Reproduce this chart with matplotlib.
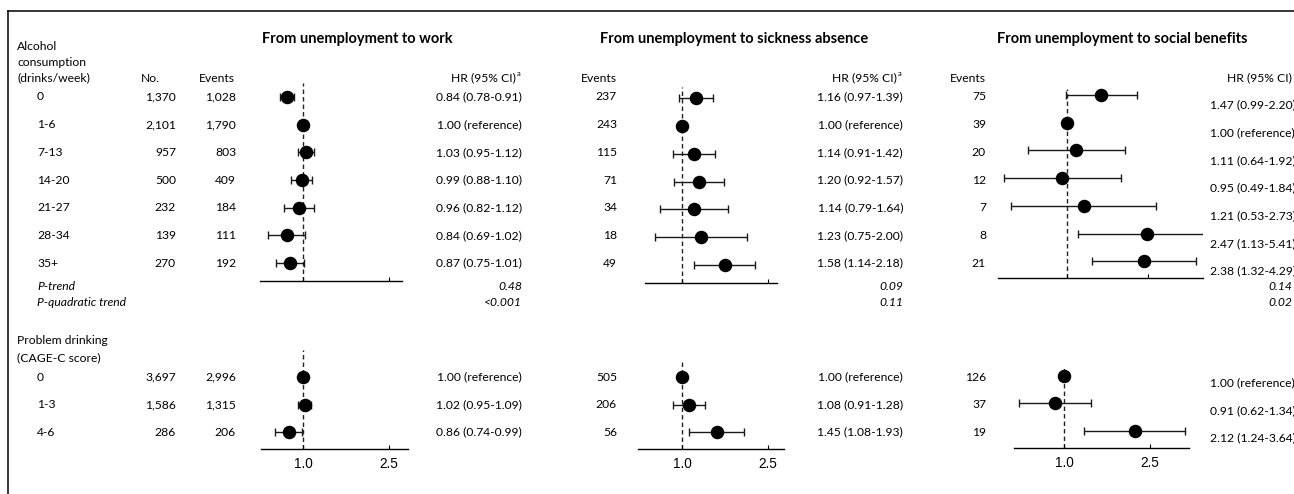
import numpy as np
import matplotlib
matplotlib.use("Agg")
import matplotlib.pyplot as plt
from matplotlib.lines import Line2D
from matplotlib.ticker import FixedLocator, NullLocator, FixedFormatter

# ---------------- data ----------------
alc_categories = ['0', '1-6', '7-13', '14-20', '21-27', '28-34', '35+']
alc_n = [1370, 2101, 957, 500, 232, 139, 270]

work_alc_events = [1028, 1790, 803, 409, 184, 111, 192]
work_alc_hr = [0.84, 1.00, 1.03, 0.99, 0.96, 0.84, 0.87]
work_alc_lo = [0.78, np.nan, 0.95, 0.88, 0.82, 0.69, 0.75]
work_alc_hi = [0.91, np.nan, 1.12, 1.10, 1.12, 1.02, 1.01]

sick_alc_events = [237, 243, 115, 71, 34, 18, 49]
sick_alc_hr = [1.16, 1.00, 1.14, 1.20, 1.14, 1.23, 1.58]
sick_alc_lo = [0.97, np.nan, 0.91, 0.92, 0.79, 0.75, 1.14]
sick_alc_hi = [1.39, np.nan, 1.42, 1.57, 1.64, 2.00, 2.18]

soc_alc_events = [75, 39, 20, 12, 7, 8, 21]
soc_alc_hr = [1.47, 1.00, 1.11, 0.95, 1.21, 2.47, 2.38]
soc_alc_lo = [0.99, np.nan, 0.64, 0.49, 0.53, 1.13, 1.32]
soc_alc_hi = [2.20, np.nan, 1.92, 1.84, 2.73, 5.41, 4.29]

p_trend = ['0.48', '0.09', '0.14']
p_quad = ['<0.001', '0.11', '0.02']

cage_categories = ['0', '1-3', '4-6']
cage_n = [3697, 1586, 286]

work_cage_events = [2996, 1315, 206]
work_cage_hr = [1.00, 1.02, 0.86]
work_cage_lo = [np.nan, 0.95, 0.74]
work_cage_hi = [np.nan, 1.09, 0.99]

sick_cage_events = [505, 206, 56]
sick_cage_hr = [1.00, 1.08, 1.45]
sick_cage_lo = [np.nan, 0.91, 1.08]
sick_cage_hi = [np.nan, 1.28, 1.93]

soc_cage_events = [126, 37, 19]
soc_cage_hr = [1.00, 0.91, 2.12]
soc_cage_lo = [np.nan, 0.62, 1.24]
soc_cage_hi = [np.nan, 1.34, 3.64]

tick_values = [1.0, 2.5]
tick_labels = ['1.0', '2.5']

titles = ['From unemployment to work',
          'From unemployment to sickness absence',
          'From unemployment to social benefits']

# ---------------- layout ----------------
W, H = 1294, 494
DPI = 100
fig = plt.figure(figsize=(W / DPI, H / DPI), dpi=DPI)
FONT = ['Lato', 'DejaVu Sans']
FS = 8.7
plt.rcParams['font.family'] = FONT


def fx(px):
    return px / W


def fy(py):
    return 1 - py / H


def txt(x, y, s, ha='left', size=FS, **kw):
    fig.text(fx(x), fy(y), s, ha=ha, va='center', fontsize=size,
             family=FONT, color='black', **kw)


# border
fig.add_artist(Line2D([fx(8), fx(W + 5)], [fy(11), fy(11)], color='black', lw=1.1))
fig.add_artist(Line2D([fx(8), fx(8)], [fy(11), fy(H + 5)], color='black', lw=1.1))

TOP0, TOPSTEP = 97, 27.7
BOT0, BOTSTEP = 377, 27.5
top_rows = [TOP0 + i * TOPSTEP for i in range(len(alc_categories))]
bot_rows = [BOT0 + i * BOTSTEP for i in range(len(cage_categories))]

# left table
txt(17, 47, 'Alcohol')
txt(17, 63, 'consumption')
txt(17, 78, '(drinks/week)')
txt(160, 78, 'No.', ha='right')
txt(235, 78, 'Events', ha='right')
for i, c in enumerate(alc_categories):
    txt(37, top_rows[i], c)
    txt(176, top_rows[i], f'{alc_n[i]:,}', ha='right')
    txt(236, top_rows[i], f'{work_alc_events[i]:,}', ha='right')
txt(37, 286, 'P-trend', style='italic')
txt(37, 302, 'P-quadratic trend', style='italic')
txt(17, 340, 'Problem drinking')
txt(17, 358, '(CAGE-C score)')
for i, c in enumerate(cage_categories):
    txt(37, bot_rows[i], c)
    txt(176, bot_rows[i], f'{cage_n[i]:,}', ha='right')
    txt(236, bot_rows[i], f'{work_cage_events[i]:,}', ha='right')


def hr_text(hr, lo, hi):
    if np.isnan(lo):
        return f'{hr:.2f} (reference)'
    return f'{hr:.2f} ({lo:.2f}-{hi:.2f})'


def forest(left, right, ytop, yaxis, x1, scale, rows, hr, lo, hi,
           labels=False, dy=0.0):
    ax = fig.add_axes([fx(left), fy(yaxis), fx(right - left), (yaxis - ytop) / H])
    ax.set_xscale('log')
    ax.set_xlim(np.exp((left - x1) / scale), np.exp((right - x1) / scale))
    ax.set_ylim(yaxis, ytop)
    ax.patch.set_visible(False)
    for s in ['top', 'left', 'right']:
        ax.spines[s].set_visible(False)
    ax.spines['bottom'].set_linewidth(1.0)
    ax.yaxis.set_visible(False)
    ax.xaxis.set_major_locator(FixedLocator(tick_values))
    ax.xaxis.set_minor_locator(NullLocator())
    ax.tick_params(axis='x', direction='in', length=3, width=0.8, pad=6,
                   labelsize=9.8)
    if labels:
        ax.xaxis.set_major_formatter(FixedFormatter(tick_labels))
        for t in ax.get_xticklabels():
            t.set_family('Liberation Sans')
    else:
        ax.set_xticklabels([])
    ax.axvline(1.0, color='#222222', lw=1.0, ls=(0, (3.2, 2.2)), zorder=1)
    hr = np.asarray(hr)
    lo = np.asarray(lo)
    hi = np.asarray(hi)
    y = np.asarray(rows) + dy
    err = np.vstack([hr - lo, hi - hr])
    err = np.nan_to_num(err, nan=0.0)
    ok = ~np.isnan(lo)
    ax.errorbar(hr[ok], y[ok], xerr=err[:, ok], fmt='none', ecolor='#1a1a1a',
                elinewidth=1.0, capsize=2.9, capthick=1.0, zorder=2)
    ax.plot(hr, y, 'o', color='black', ms=8.7, zorder=3, clip_on=False)
    return ax


S = 86 / np.log(2.5)
# panel 1: work
forest(260, 402, 83, 281, 303, S, top_rows, work_alc_hr, work_alc_lo, work_alc_hi)
forest(261, 408, 350, 449, 303, S, bot_rows, work_cage_hr, work_cage_lo, work_cage_hi, labels=True)
# panel 2: sickness
forest(645, 777, 87, 283, 682, S, top_rows, sick_alc_hr, sick_alc_lo, sick_alc_hi, dy=1.5)
forest(638, 784, 362, 449, 682, S, bot_rows, sick_cage_hr, sick_cage_lo, sick_cage_hi, labels=True)
# panel 3: social benefits
forest(998, 1203, 89, 278, 1067, 81 / np.log(2.5), top_rows, soc_alc_hr, soc_alc_lo, soc_alc_hi, dy=-2)
forest(1014, 1189, 368, 448, 1064, S, bot_rows, soc_cage_hr, soc_cage_lo, soc_cage_hi, labels=True, dy=-1)

# titles
for cx, t in zip([357, 734, 1122], titles):
    txt(cx, 39, t, ha='center', size=10.5, weight='bold')

# panel 1 columns
txt(516, 78, 'HR (95% CI)', ha='right')
txt(517, 74, 'a', size=5.5)
for i in range(len(alc_categories)):
    txt(522, top_rows[i], hr_text(work_alc_hr[i], work_alc_lo[i], work_alc_hi[i]), ha='right')
for i in range(len(cage_categories)):
    txt(522, bot_rows[i], hr_text(work_cage_hr[i], work_cage_lo[i], work_cage_hi[i]), ha='right')
txt(522, 286, p_trend[0], ha='right', style='italic')
txt(522, 302, p_quad[0], ha='right', style='italic')

# panel 2 columns
txt(617, 78, 'Events', ha='right')
txt(897, 78, 'HR (95% CI)', ha='right')
txt(898, 74, 'a', size=5.5)
for i in range(len(alc_categories)):
    txt(617, top_rows[i], f'{sick_alc_events[i]:,}', ha='right')
    txt(903, top_rows[i], hr_text(sick_alc_hr[i], sick_alc_lo[i], sick_alc_hi[i]), ha='right')
for i in range(len(cage_categories)):
    txt(617, bot_rows[i], f'{sick_cage_events[i]:,}', ha='right')
    txt(903, bot_rows[i], hr_text(sick_cage_hr[i], sick_cage_lo[i], sick_cage_hi[i]), ha='right')
txt(903, 286, p_trend[1], ha='right', style='italic')
txt(903, 302, p_quad[1], ha='right', style='italic')

# panel 3 columns
txt(986, 78, 'Events', ha='right')
txt(1227, 78, 'HR (95% CI)')
for i in range(len(alc_categories)):
    txt(986, top_rows[i], f'{soc_alc_events[i]:,}', ha='right')
    txt(1210, top_rows[i] + 8, hr_text(soc_alc_hr[i], soc_alc_lo[i], soc_alc_hi[i]))
for i in range(len(cage_categories)):
    txt(986, bot_rows[i], f'{soc_cage_events[i]:,}', ha='right')
    txt(1210, bot_rows[i] + 6, hr_text(soc_cage_hr[i], soc_cage_lo[i], soc_cage_hi[i]))
txt(1292, 286, p_trend[2], ha='right', style='italic')
txt(1292, 302, p_quad[2], ha='right', style='italic')

fig.savefig('out.png', dpi=DPI)
